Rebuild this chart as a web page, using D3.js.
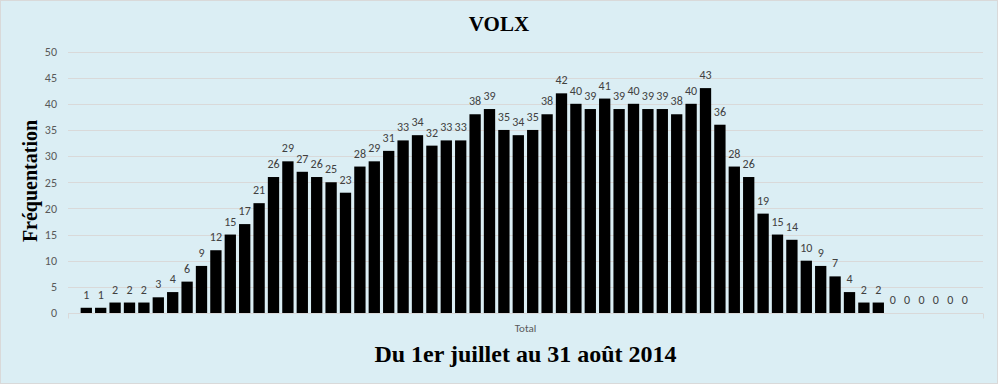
<!DOCTYPE html>
<html>
<head>
<meta charset="utf-8">
<script src="https://cdn.jsdelivr.net/npm/d3@7"></script>
<style>
  html, body { margin: 0; padding: 0; background: #ffffff; }
  svg { display: block; }
</style>
</head>
<body>
<svg id="chart" width="998" height="384"></svg>
<script>
// ---- Data ----
const days = d3.range(1, 63).map(d => "J" + d); // 1 juillet .. 31 août (62 jours)
const values = [1,1,2,2,2,3,4,6,9,12,15,17,21,26,29,27,26,25,23,28,29,31,33,34,32,33,33,38,39,35,34,35,38,42,40,39,41,39,40,39,39,38,40,43,36,28,26,19,15,14,10,9,7,4,2,2,0,0,0,0,0,0];
const yTicks = [0,5,10,15,20,25,30,35,40,45,50];
const categoryLabel = "Total";
const chartTitle = "VOLX";
const yTitle = "Fréquentation";
const xTitle = "Du 1er juillet au 31 août 2014";

// ---- Layout ----
const W = 998, H = 384;
const plot = { left: 68, right: 983, top: 51.5, bottom: 313 };
const smallFont = "Carlito, Calibri, 'Open Sans', sans-serif";
const serifFont = "'Liberation Serif', 'Times New Roman', serif";

const svg = d3.select("#chart");

svg.append("rect")
  .attr("x", 0.5).attr("y", 0.5)
  .attr("width", W - 1).attr("height", H - 1)
  .attr("fill", "#dbeef4")
  .attr("stroke", "#d9d9d9").attr("stroke-width", 1);

const x = d3.scaleBand()
  .domain(days)
  .range([plot.left, plot.right])
  .paddingInner(0.215)
  .paddingOuter(0.878);

const y = d3.scaleLinear()
  .domain([0, 50])
  .range([plot.bottom, plot.top]);

// gridlines
svg.append("g")
  .selectAll("line")
  .data(yTicks.filter(t => t > 0))
  .join("line")
  .attr("x1", plot.left).attr("x2", plot.right)
  .attr("y1", d => Math.round(y(d)) + 0.5)
  .attr("y2", d => Math.round(y(d)) + 0.5)
  .attr("stroke", "#d9d9d9").attr("stroke-width", 1);

// y axis labels
const yAxis = d3.axisLeft(y).tickValues(yTicks).tickSize(0).tickPadding(11);
const gy = svg.append("g")
  .attr("transform", `translate(${plot.left},0)`)
  .call(yAxis);
gy.select(".domain").remove();
gy.selectAll("text")
  .attr("fill", "#595959")
  .attr("font-family", smallFont)
  .attr("font-size", 12);

// bars
svg.append("g")
  .selectAll("rect")
  .data(values)
  .join("rect")
  .attr("x", (d, i) => x(days[i]))
  .attr("width", x.bandwidth())
  .attr("y", d => y(d))
  .attr("height", d => y(0) - y(d))
  .attr("fill", "#000000");

// x axis line & ticks
const baseY = Math.round(y(0)) + 0.5;
svg.append("line")
  .attr("x1", plot.left).attr("x2", plot.right)
  .attr("y1", baseY).attr("y2", baseY)
  .attr("stroke", "#d9d9d9").attr("stroke-width", 1);
svg.append("g")
  .selectAll("line")
  .data([plot.left, plot.right])
  .join("line")
  .attr("x1", d => Math.round(d) + 0.5).attr("x2", d => Math.round(d) + 0.5)
  .attr("y1", baseY).attr("y2", baseY + 5)
  .attr("stroke", "#d9d9d9").attr("stroke-width", 1);

// data labels
svg.append("g")
  .selectAll("text")
  .data(values)
  .join("text")
  .attr("x", (d, i) => x(days[i]) + x.bandwidth() / 2)
  .attr("y", d => y(d) - 9)
  .attr("text-anchor", "middle")
  .attr("fill", "#404040")
  .attr("font-family", smallFont)
  .attr("font-size", 12)
  .text(d => d);

// category label
svg.append("text")
  .attr("x", (plot.left + plot.right) / 2)
  .attr("y", 332)
  .attr("text-anchor", "middle")
  .attr("fill", "#595959")
  .attr("font-family", smallFont)
  .attr("font-size", 11)
  .text(categoryLabel);

// titles
svg.append("text")
  .attr("x", 499).attr("y", 31)
  .attr("text-anchor", "middle")
  .attr("font-family", serifFont)
  .attr("font-weight", "bold")
  .attr("font-size", 21)
  .attr("fill", "#000")
  .text(chartTitle);

svg.append("text")
  .attr("transform", "translate(37,181) rotate(-90)")
  .attr("text-anchor", "middle")
  .attr("font-family", serifFont)
  .attr("font-weight", "bold")
  .attr("font-size", 20)
  .attr("fill", "#000")
  .text(yTitle);

svg.append("text")
  .attr("x", 525.5).attr("y", 362)
  .attr("text-anchor", "middle")
  .attr("font-family", serifFont)
  .attr("font-weight", "bold")
  .attr("font-size", 24)
  .attr("fill", "#000")
  .text(xTitle);
</script>
</body>
</html>
